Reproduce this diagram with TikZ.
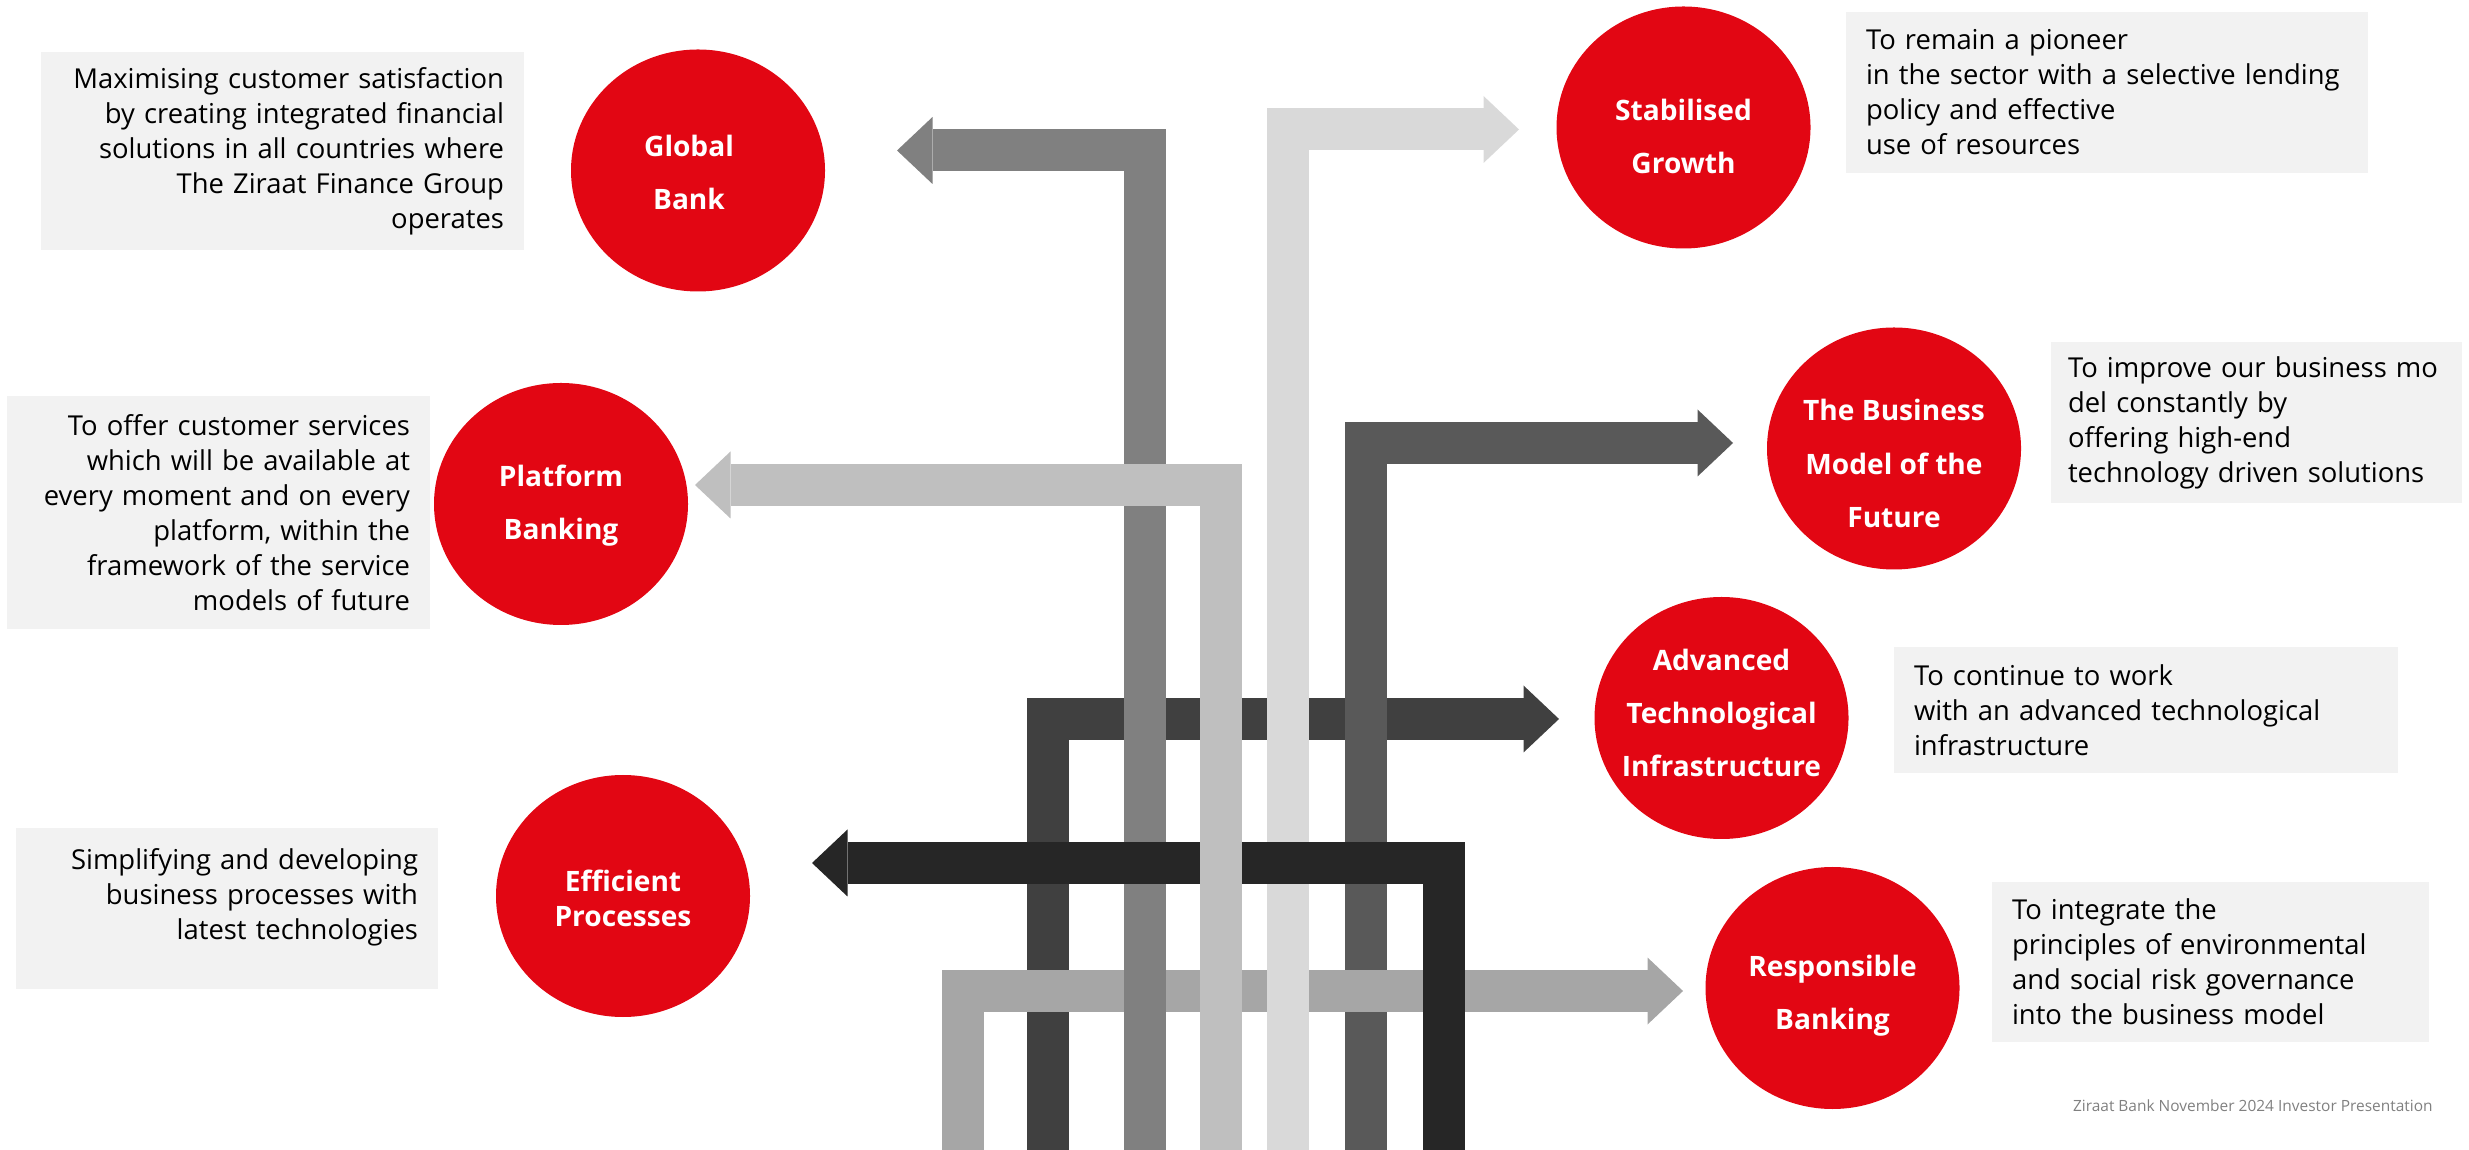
\documentclass[tikz,border=0pt]{standalone}
\usepackage{fontspec}
\setmainfont{Open Sans}
\usetikzlibrary{shapes.geometric,arrows.meta}
\definecolor{zred}{HTML}{E20613}
\newcommand{\descfont}{\fontsize{7.8}{9.96}\selectfont}
\newcommand{\bubblefont}{\fontsize{8}{15.1}\selectfont\bfseries}
\begin{document}
\begin{tikzpicture}[
        bubble/.style={ellipse,fill=zred,minimum width=2.54cm,minimum height=2.42cm,inner sep=0pt},
        btext/.style={text=white,font=\bubblefont,align=center,yshift=-0.02cm},
        descbox/.style={fill=black!5,font=\descfont,inner xsep=0.2cm,inner ysep=0pt},
        bar/.style={line width=0.42cm,-{Triangle[length=0.355cm,width=0.67cm,line width=0pt]}}]
        \useasboundingbox(0,0)rectangle(24.69,11.49);
        \coordinate(adv0)at(10.475,-0.1);
        \coordinate(adv1)at(15.59,4.30);
        \coordinate(bus0)at(13.655,-0.1);
        \coordinate(bus1)at(17.33,7.06);
        \coordinate(res0)at(9.625,-0.1);
        \coordinate(res1)at(16.83,1.58);
        \coordinate(glo0)at(11.45,-0.1);
        \coordinate(glo1)at(8.97,9.985);
        \coordinate(sta0)at(12.88,-0.1);
        \coordinate(sta1)at(15.19,10.195);
        \coordinate(eff0)at(14.44,-0.1);
        \coordinate(eff1)at(8.12,2.86);
        \coordinate(pla0)at(12.205,-0.1);
        \coordinate(pla1)at(6.95,6.64);
        \draw[bar,black!75](adv0)|-(adv1);
        \draw[bar,black!65](bus0)|-(bus1);
        \draw[bar,black!35](res0)|-(res1);
        \draw[bar,black!50](glo0)|-(glo1);
        \draw[bar,black!15](sta0)|-(sta1);
        \draw[bar,black!85](eff0)|-(eff1);
        \draw[bar,black!25](pla0)|-(pla1);
        \node[bubble,label={[btext,xshift=-0.09cm]center:Global\\Bank}](G)at(6.98,9.785){};
        \node[bubble,label={[btext,yshift=-0.07cm]center:Stabilised\\Growth}](S)at(16.835,10.215){};
        \node[bubble,label={[btext]center:Platform\\Banking}](P)at(5.61,6.45){};
        \node[bubble,label={[btext,yshift=-0.13cm]center:The Business\\Model of the\\Future}](M)at(18.94,7.005){};
        \node[bubble,label={[btext,yshift=0.07cm]center:Advanced\\Technological\\Infrastructure}](T)at(17.215,4.31){};
        \node[bubble,label={[btext,font=\fontsize{8}{9.96}\selectfont\bfseries]center:Efficient\\Processes}](E)at(6.23,2.53){};
        \node[bubble,label={[btext,yshift=-0.06cm]center:Responsible\\Banking}](R)at(18.325,1.61){};
        \node[descbox,align=right,text width=4.43cm,minimum height=1.98cm](Gd)at(2.825,9.98){Maximising customer satisfaction\\by creating integrated financial\\solutions in all countries where\\The Ziraat Finance Group\\operates};
        \node[descbox,align=right,text width=3.83cm,minimum height=2.33cm](Pd)at(2.185,6.365){To offer customer services\\which will be available at\\every moment and on every\\platform, within the\\framework of the service\\models of future};
        \node[descbox,align=right,text width=3.82cm,minimum height=1.61cm](Ed)at(2.27,2.405){Simplifying and developing\\business processes with\\latest technologies\\[-0.07cm]~};
        \node[descbox,align=left,text width=4.82cm,minimum height=1.61cm](Sd)at(21.07,10.565){To remain a pioneer\\in the sector with a selective lending\\policy and effective\\use of resources};
        \node[descbox,align=left,inner xsep=0.17cm,text width=3.77cm,minimum height=1.61cm](Md)at(22.565,7.265){To improve our business mo\\del constantly by\\offering high-end\\technology driven solutions};
        \node[descbox,align=left,text width=4.64cm,minimum height=1.26cm](Td)at(21.46,4.39){To continue to work\\with an advanced technological\\infrastructure};
        \node[descbox,align=left,text width=3.97cm,minimum height=1.60cm](Rd)at(22.105,1.87){To integrate the\\principles of environmental\\and social risk governance\\into the business model};
        \node[anchor=base east,text=black!50,font=\fontsize{4.4}{5}\selectfont](F)at(24.45,0.38){Ziraat Bank November 2024 Investor Presentation};
\end{tikzpicture}
\end{document}
